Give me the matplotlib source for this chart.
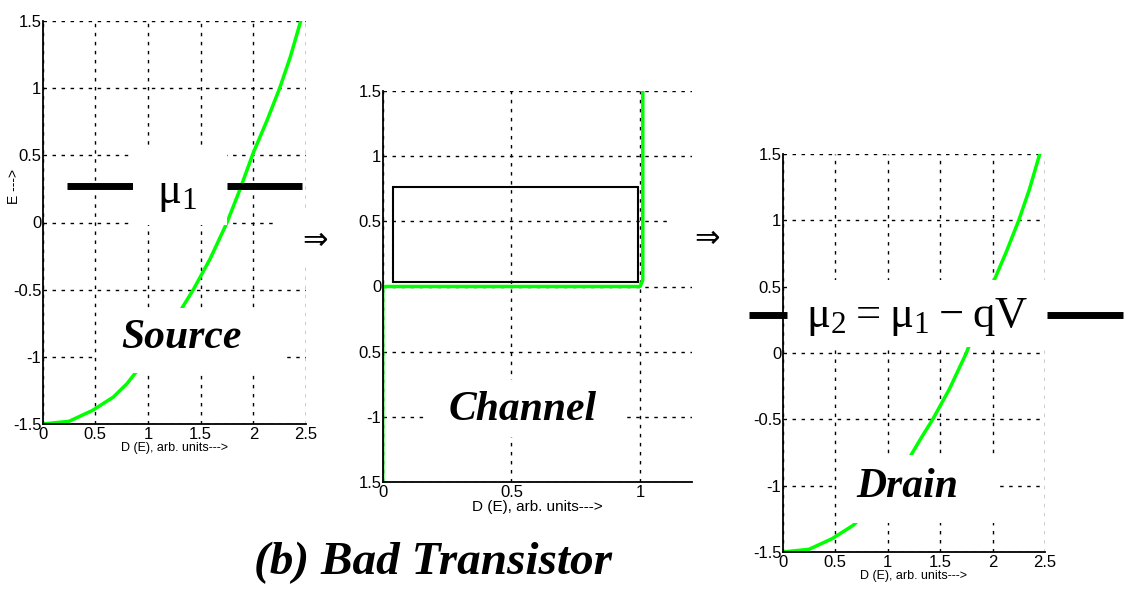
import matplotlib
matplotlib.use("Agg")
import matplotlib.pyplot as plt
from matplotlib.patches import Rectangle

# Data: D(E) of the contacts and of the channel
energy = [-1.5, -1.48, -1.4, -1.3, -1.2, -1.1, -1.0, -0.8, -0.64, -0.5,
          -0.27, 0.0, 0.24, 0.52, 0.76, 1.0, 1.23, 1.5]
dos_contact = [0.0, 0.25, 0.47, 0.67, 0.80, 0.90, 1.0, 1.2, 1.32, 1.43,
               1.59, 1.75, 1.87, 2.0, 2.13, 2.25, 2.35, 2.45]
energy_ch = [-1.5, 0.0, 0.0, 0.05, 1.5]
dos_ch = [0.0, 0.0, 1.0, 1.01, 1.01]

contact_xticks = [0, 0.5, 1, 1.5, 2, 2.5]
contact_xlabels = ["0", "0.5", "1", "1.5", "2", "2.5"]
yticks = [-1.5, -1, -0.5, 0, 0.5, 1, 1.5]
contact_ylabels = ["-1.5", "-1", "-0.5", "0", "0.5", "1", "1.5"]
channel_xticks = [0, 0.5, 1]
channel_xlabels = ["0", "0.5", "1"]
channel_ylabels = ["1.5", "-1", "0.5", "0", "0.5", "1", "1.5"]

mu1 = 0.27
mu2 = 0.29

W, H = 1125, 589
GREEN = "#00ff00"
TICK_FONT = ["Liberation Sans Narrow", "Liberation Sans", "DejaVu Sans"]
SERIF = ["Liberation Serif", "DejaVu Serif"]

plt.rcParams["mathtext.fontset"] = "custom"
plt.rcParams["mathtext.rm"] = "Liberation Serif"

fig = plt.figure(figsize=(W / 100, H / 100), dpi=100)


def px_axes(l, t, r, b):
    return fig.add_axes([l / W, 1 - b / H, (r - l) / W, (b - t) / H])


def style(ax, xlim, xticks, xlabels, ylabels, xlabel, lsize=9):
    ax.set_xlim(*xlim)
    ax.set_ylim(-1.5, 1.5)
    ax.set_xticks(xticks)
    ax.set_xticklabels(xlabels, family=TICK_FONT, fontsize=12)
    ax.set_yticks(yticks)
    ax.set_yticklabels(ylabels, family=TICK_FONT, fontsize=12)
    ax.tick_params(length=0, pad=1)
    ax.tick_params(axis="x", pad=2)
    ax.spines[["top", "right"]].set_visible(False)
    for s in ("left", "bottom"):
        ax.spines[s].set_linewidth(1.3)
    ax.grid(True, color="black", linestyle=(0, (2.5, 4)), linewidth=1)
    ax.set_axisbelow(True)
    ax.set_xlabel(xlabel, family=TICK_FONT, fontsize=lsize, labelpad=0)


def mask(l, t, r, b):
    fig.add_artist(Rectangle((l / W, 1 - b / H), (r - l) / W, (b - t) / H,
                             transform=fig.transFigure, facecolor="white",
                             edgecolor="none", zorder=2))


def fig_text(x, y, s, **kw):
    fig.text(x / W, 1 - y / H, s, ha="center", va="center", zorder=3, **kw)


# Source
ax1 = px_axes(42.7, 21, 306, 424)
ax1.plot(dos_contact, energy, color=GREEN, lw=2.5)
style(ax1, (0, 2.5), contact_xticks, contact_xlabels, contact_ylabels,
      "D (E), arb. units--->")
for x0, x1 in [(0.23, 0.86), (1.75, 2.46)]:
    ax1.plot([x0, x1], [mu1, mu1], color="black", lw=5, solid_capstyle="butt")
fig_text(14, 187, "E --->", family=TICK_FONT, fontsize=10, rotation=90)

# Channel
ax2 = px_axes(382.7, 91, 691.7, 482)
ax2.plot(dos_ch, energy_ch, color=GREEN, lw=2.5)
ax2.add_patch(Rectangle((0.041, 0.031), 0.951, 0.73, facecolor="none",
                        edgecolor="black", lw=1.5, zorder=3))
style(ax2, (0, 1.2), channel_xticks, channel_xlabels, channel_ylabels,
      "D (E), arb. units--->", lsize=11)

# Drain
ax3 = px_axes(782.7, 154, 1045, 552)
ax3.plot(dos_contact, energy, color=GREEN, lw=2.5)
style(ax3, (0, 2.5), contact_xticks, contact_xlabels, contact_ylabels,
      "D (E), arb. units--->")
for x0, x1 in [(-0.32, 0.04), (2.52, 3.24)]:
    ax3.plot([x0, x1], [mu2, mu2], color="black", lw=5,
             solid_capstyle="butt", clip_on=False)

# white text boxes of the slide
mask(97, 308, 287, 373)
mask(133, 150, 227, 225)
mask(277, 212, 340, 262)
mask(425, 380, 627, 437)
mask(667, 210, 740, 265)
mask(837, 455, 997, 523)
mask(789, 280, 1046, 347)

bold_it = dict(family=SERIF, fontsize=30, fontweight="bold", fontstyle="italic")
fig_text(181, 338, "Source", **bold_it)
fig_text(523, 410, "Channel", **bold_it)
fig_text(907, 487, "Drain", **bold_it)
fig_text(433, 563, "(b) Bad Transistor",
         family=SERIF, fontsize=34, fontweight="bold", fontstyle="italic")

fig_text(177, 193, r"$\mathrm{\mu_1}$", fontsize=32)
fig_text(917, 316, r"$\mathrm{\mu_2 = \mu_1 - qV}$", fontsize=32)
fig_text(315, 240, "⇒", fontsize=22, family="DejaVu Sans")
fig_text(707, 238, "⇒", fontsize=22, family="DejaVu Sans")

fig.savefig("out.png", dpi=100)
